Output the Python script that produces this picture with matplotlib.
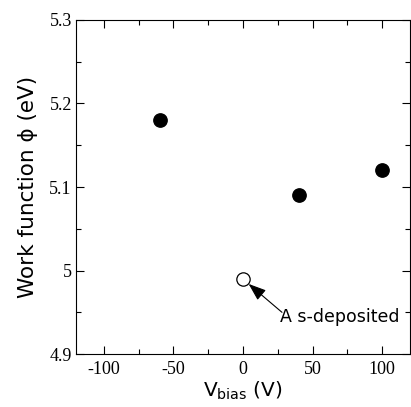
import matplotlib
matplotlib.use("Agg")
import matplotlib.pyplot as plt
from matplotlib.ticker import MultipleLocator

# biased samples
v_bias = [-60, 40, 100]
work_fn = [5.18, 5.09, 5.12]
# as-deposited sample
v_asdep = [0]
work_fn_asdep = [4.99]

plt.rcParams['mathtext.fontset'] = 'dejavusans'
plt.rcParams['axes.unicode_minus'] = False

fig = plt.figure(figsize=(4.11, 4.07), dpi=100)
ax = fig.add_axes([0.185, 0.130, 0.8126, 0.821])

ax.plot(v_bias, work_fn, 'o', color='black', markersize=9.6, linestyle='none')
ax.plot(v_asdep, work_fn_asdep, 'o', markerfacecolor='white', markeredgecolor='black',
        markeredgewidth=0.9, markersize=9.6, linestyle='none')

ax.annotate('', xy=(4.0, 4.984), xytext=(28, 4.950),
            arrowprops=dict(arrowstyle='-|>,head_length=0.6,head_width=0.22',
                            color='black', lw=0.8, mutation_scale=18,
                            shrinkA=0, shrinkB=0))
ax.text(26.5, 4.944, 'A s-deposited', fontsize=12.5, family='DejaVu Sans',
        va='center', ha='left')

ax.set_xlim(-120, 120)
ax.set_ylim(4.9, 5.3)
ax.xaxis.set_major_locator(MultipleLocator(50))
ax.xaxis.set_minor_locator(MultipleLocator(25))
ax.yaxis.set_major_locator(MultipleLocator(0.1))
ax.yaxis.set_minor_locator(MultipleLocator(0.05))
ax.set_yticks([4.9, 5.0, 5.1, 5.2, 5.3])
ax.set_yticklabels(['4.9', '5', '5.1', '5.2', '5.3'])

ax.tick_params(which='both', direction='in', top=True, right=True, width=0.8)
ax.tick_params(which='major', length=6)
ax.tick_params(which='minor', length=3.6)
for lbl in ax.get_xticklabels() + ax.get_yticklabels():
    lbl.set_family('Liberation Serif')
    lbl.set_fontsize(13)
ax.tick_params(axis='x', pad=5)
ax.tick_params(axis='y', pad=3)
for sp in ax.spines.values():
    sp.set_linewidth(0.8)

ax.set_ylabel('Work function ϕ (eV)', fontsize=15.5, family='DejaVu Sans', labelpad=8)
ax.set_xlabel(r'V$_{\rm bias}$ (V)', fontsize=14.5, family='DejaVu Sans', labelpad=1)

fig.savefig('out.png', dpi=100)
